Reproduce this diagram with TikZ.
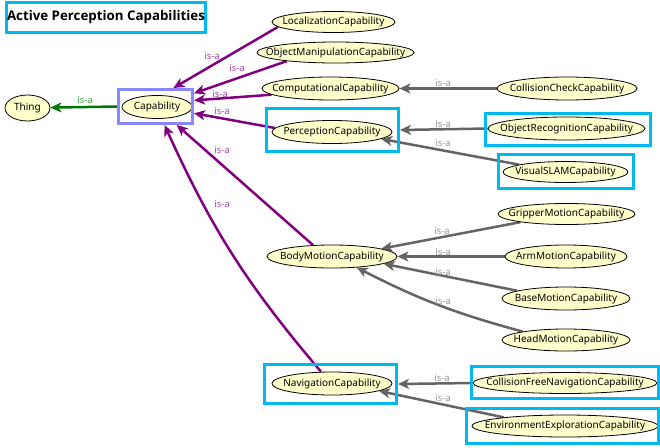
\documentclass[tikz,border=0pt]{standalone}
\usepackage{fontspec}
\setmainfont{Noto Sans}
\newfontfamily\titlefont{Open Sans}
\usetikzlibrary{shapes.geometric,arrows.meta}
\pgfdeclarelayer{bg}
\pgfsetlayers{bg,main}
\definecolor{nodefill}{RGB}{255,255,204}
\definecolor{hlcyan}{RGB}{0,185,240}
\definecolor{hllav}{RGB}{135,135,255}
\definecolor{isapurple}{RGB}{128,0,128}
\definecolor{isapurplelab}{RGB}{165,70,165}
\definecolor{isagray}{RGB}{100,100,100}
\definecolor{isagraylab}{RGB}{150,150,150}
\definecolor{isagreen}{RGB}{0,120,0}
\definecolor{isagreenlab}{RGB}{70,160,70}
\newcommand{\zw}[1]{\makebox[0pt][c]{#1}}
\begin{document}
\begin{tikzpicture}[x=1pt,y=-1pt,
  cls/.style={ellipse, draw=black, line width=0.8pt, fill=nodefill, inner sep=0pt,
    minimum height=22pt, font=\fontsize{10}{12}\selectfont},
  hlbox/.style={draw=hlcyan, line width=3pt, inner sep=0pt},
  lavbox/.style={draw=hllav, line width=3pt, inner sep=0pt},
  isa/.style={line width=2.5pt, -{Stealth[length=11pt,width=10pt,inset=3pt]}},
  pe/.style={isa, draw=isapurple},
  ge/.style={isa, draw=isagray},
  gre/.style={isa, draw=isagreen},
  lab/.style={font=\fontsize{9.5}{10}\selectfont, inner sep=0pt},
  plab/.style={lab, text=isapurplelab},
  glab/.style={lab, text=isagraylab},
  grlab/.style={lab, text=isagreenlab}
]
\useasboundingbox (0,0) rectangle (660,447);

% class nodes
\node[cls, minimum width=45pt, minimum height=26pt] (thing) at (27.5,108) {\zw{Thing}};
\node[cls, minimum width=70pt, minimum height=23pt] (cap) at (157,107) {\zw{Capability}};
\node[cls, minimum width=123pt, minimum height=21pt] (loc) at (333.5,22) {\zw{LocalizationCapability}};
\node[cls, minimum width=157pt, minimum height=21pt] (om) at (335.5,52.5) {\zw{ObjectManipulationCapability}};
\node[cls, minimum width=137pt, minimum height=23pt] (comp) at (330.5,88.5) {\zw{ComputationalCapability}};
\node[cls, minimum width=120pt, minimum height=23pt] (perc) at (332,132) {\zw{PerceptionCapability}};
\node[cls, minimum width=140pt, minimum height=23pt] (cc) at (567,88.5) {\zw{CollisionCheckCapability}};
\node[cls, minimum width=157pt, minimum height=23pt] (or) at (566.5,128.5) {\zw{ObjectRecognitionCapability}};
\node[cls, minimum width=125pt, minimum height=21pt] (vs) at (565.5,172) {\zw{VisualSLAMCapability}};
\node[cls, minimum width=130pt, minimum height=23pt] (body) at (332,256.5) {\zw{BodyMotionCapability}};
\node[cls, minimum width=137pt, minimum height=21pt] (grip) at (566.5,214) {\zw{GripperMotionCapability}};
\node[cls, minimum width=122pt, minimum height=23pt] (arm) at (566,256.5) {\zw{ArmMotionCapability}};
\node[cls, minimum width=128pt, minimum height=23pt] (base) at (566,298.5) {\zw{BaseMotionCapability}};
\node[cls, minimum width=128pt, minimum height=22pt] (head) at (566,340) {\zw{HeadMotionCapability}};
\node[cls, minimum width=120pt, minimum height=23pt] (nav) at (332,383.5) {\zw{NavigationCapability}};
\node[cls, minimum width=184pt, minimum height=21pt] (cfn) at (565,383) {\zw{CollisionFreeNavigationCapability}};
\node[cls, minimum width=186pt, minimum height=22pt] (ee) at (565,426) {\zw{EnvironmentExplorationCapability}};

% highlight boxes
\node[hlbox, minimum width=199pt, minimum height=30pt, font=\titlefont\fontsize{13.3}{15}\selectfont\bfseries] (title) at (106,17.5) {Active Perception Capabilities};
\node[lavbox, minimum width=74pt, minimum height=34pt] (capbox) at (155.5,106.5) {};
\node[hlbox, minimum width=132pt, minimum height=43pt] (percbox) at (332.5,130) {};
\node[hlbox, minimum width=165pt, minimum height=32pt] (orbox) at (568,129.5) {};
\node[hlbox, minimum width=135pt, minimum height=34pt] (vsbox) at (566,171.5) {};
\node[hlbox, minimum width=132pt, minimum height=39pt] (navbox) at (330.5,384) {};
\node[hlbox, minimum width=187pt, minimum height=32pt] (cfnbox) at (565,382.5) {};
\node[hlbox, minimum width=192pt, minimum height=35pt] (eebox) at (562.5,426) {};

\begin{pgfonlayer}{bg}
\draw[gre] (capbox.west) -- (thing) node[grlab] (l0) at (85,100) {is-a};

\draw[pe] (loc.185) -- (capbox.46.5) node[plab] (l1) at (212,56) {is-a};
\draw[pe] (om.190) -- (capbox.19) node[plab] (l2) at (237,68) {is-a};
\draw[pe] (comp.186) -- (capbox.9) node[plab] (l3) at (220,94) {is-a};
\draw[pe] (perc.176) -- (capbox.350) node[plab] (l4) at (222,111) {is-a};
\draw[pe] (body.149) -- (capbox.319) node[plab] (l5) at (222,150) {is-a};
\draw[pe] (nav.133) to[bend left=8] (capbox.296);
\node[plab] (l6) at (222,204) {is-a};

\draw[ge] (cc) -- (comp) node[glab] (l7) at (443,83) {is-a};
\draw[ge] (or.west) -- (percbox.east) node[glab] (l8) at (443,124) {is-a};
\draw[ge] (vs.171) -- (perc.352) node[glab] (l9) at (443,143) {is-a};
\draw[ge] (grip.190) -- (body.9) node[glab] (l10) at (442,231) {is-a};
\draw[ge] (arm) -- (body) node[glab] (l11) at (443,252) {is-a};
\draw[ge] (base.171) -- (body.352) node[glab] (l12) at (443,272) {is-a};
\draw[ge] (head.169) to[bend left=6] (body.336);
\node[glab] (l13) at (443,301) {is-a};
\draw[ge] (cfn.west) -- (navbox.east) node[glab] (l14) at (442,378) {is-a};
\draw[ge] (ee.172) -- (nav.351) node[glab] (l15) at (443,398) {is-a};
\end{pgfonlayer}
\end{tikzpicture}
\end{document}
